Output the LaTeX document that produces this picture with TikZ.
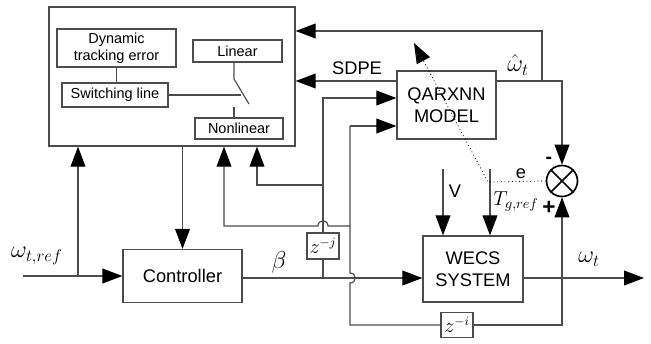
\documentclass[tikz,border=0pt]{standalone}
\usepackage{amsmath}
\usepackage{fontspec}
\setmainfont{Liberation Sans}
\usetikzlibrary{arrows.meta}

\tikzset{
  wire/.style={draw=black!70},
  arr/.style={wire, -{Triangle[length=0.5cm, width=0.37cm, color=black]}},
  blk/.style={draw=black!70, align=center, inner sep=0pt, font=\fontsize{13}{15.5}\selectfont},
  sub/.style={draw=black!70, align=center, inner sep=0pt, font=\fontsize{10.3}{12}\selectfont},
  zbox/.style={draw=black!70, inner sep=0pt, minimum width=0.8cm, minimum height=0.65cm, font=\fontsize{13.5}{16}\selectfont},
  lbl/.style={font=\fontsize{13}{15}\selectfont},
  mth/.style={font=\fontsize{18}{20}\selectfont}
}

\begin{document}
\begin{tikzpicture}[x=0.025cm, y=-0.025cm, line width=0.85pt]
    \useasboundingbox (0,0) rectangle (651,343);

    % supervisor
    \node[draw=black!70, minimum width=6.15cm, minimum height=3.475cm] (sup) at (172,76.5) {};
    \node[sub, minimum width=2.975cm, minimum height=0.95cm] (dte) at (116.5,48) {Dynamic\\tracking error};
    \node[sub, minimum width=2.225cm, minimum height=0.55cm] (lin) at (237.5,51) {Linear};
    \node[sub, minimum width=2.65cm, minimum height=0.6cm] (swl) at (115,95) {Switching line};
    \node[sub, minimum width=2.2cm, minimum height=0.525cm] (nonlin) at (239,128.5) {Nonlinear};

    \node[blk, minimum width=2.475cm, minimum height=1.7cm] (qarx) at (446.5,105) {QARXNN\\MODEL};
    \node[blk, minimum width=2.975cm, minimum height=1.325cm] (ctrl) at (182.5,276) {Controller};
    \node[blk, minimum width=2.5cm, minimum height=1.65cm] (wecs) at (473,269) {WECS\\SYSTEM};
    \node[zbox] (zj) at (323,246) {$z^{-j}$};
    \node[zbox, minimum height=0.625cm] (zi) at (457,325) {$z^{-i}$};
    \node[draw=black, line width=1.2pt, circle, minimum size=0.775cm, inner sep=0pt] (sum) at (562,181) {};
    \draw[line width=1.2pt] (sum.north west) -- (sum.south east) (sum.north east) -- (sum.south west);

    \coordinate (wref) at (23,276);
    \coordinate (jref) at (78,276);
    \coordinate (bline) at (0,278);
    \coordinate (jb) at (323,278);
    \coordinate (q1) at (323,98);
    \coordinate (q2) at (350,126);
    \coordinate (j2) at (323,185);
    \coordinate (n2) at (257,185);
    \coordinate (j3) at (350,226);
    \coordinate (n3) at (224,226);
    \coordinate (ib) at (350,325);
    \coordinate (ic) at (562,325);
    \coordinate (wh) at (542,81);
    \coordinate (hc) at (562,81);
    \coordinate (top) at (542,31);
    \coordinate (vin) at (443,169);
    \coordinate (tin) at (490,169);
    \coordinate (ecr) at (488,182);
    \coordinate (lrn) at (414,43);
    \coordinate (wout) at (644,278);

    % switch
    \draw[wire] (dte.south) -- (dte.south |- swl.north);
    \draw[wire] (swl.east) -- ++(72,0);
    \draw[wire] (lin.south -| 234,0) -- (234,79) -- (249,104);
    \draw[wire] (nonlin.north -| 234,0) -- (234,107);

    \draw[arr] (wref) -- (ctrl.west);
    \draw[arr] (jref) -- (jref |- sup.south);
    \draw[arr] (sup.south -| ctrl.north) -- (ctrl.north);
    \draw[arr] (ctrl.east |- bline) -- (wecs.west |- bline);
    \draw[arr] (wecs.east |- bline) -- (wout);

    \draw[wire] (jb) -- (zj.south);
    \draw[arr] (zj.north) -- (q1) -- (q1 -| qarx.west);
    \draw[arr] (j2) -- (n2) -- (n2 |- sup.south);
    \draw[wire] (zi.west) -- (ib) -- (350,283) .. controls (357,283) and (357,273) .. (350,273) -- (q2);
    \draw[arr] (q2) -- (q2 -| qarx.west);
    \draw[arr] (j3) -- (328,226) .. controls (328,219) and (318,219) .. (318,226) -- (n3) -- (n3 |- sup.south);
    \draw[arr] (zi.east) -- (ic) -- (sum.south);

    \draw[arr] (qarx.east |- wh) -- (hc) -- (sum.north);
    \draw[arr] (wh) -- (top) -- (top -| sup.east);
    \draw[arr] (qarx.west |- wh) -- (wh -| sup.east);
    \draw[arr] (vin) -- (vin |- wecs.north);
    \draw[arr] (tin) -- (tin |- wecs.north);
    \draw[arr, draw=black, line width=0.6pt, dotted] (sum.west) -- (ecr) -- (lrn);

    \node[lbl] (sdpe) at (357,68) {SDPE};
    \node[lbl] (vlbl) at (455,191) {V};
    \node[lbl] (elbl) at (521,174) {e};
    \node[mth] (wreflbl) at (37,256) {$\omega_{t,ref}$};
    \node[mth] (betalbl) at (279,262) {$\beta$};
    \node[mth] (whlbl) at (518,65) {$\hat{\omega}_t$};
    \node[mth] (wtlbl) at (589,259) {$\omega_t$};
    \node[font=\fontsize{14}{16}\selectfont] (tglbl) at (516,201) {$T_{g,ref}$};
    \node[font=\bfseries\fontsize{14}{16}\selectfont] (minus) at (549,160) {-};
    \node[font=\bfseries\fontsize{16}{18}\selectfont] (plus) at (549,208) {+};
\end{tikzpicture}
\end{document}
